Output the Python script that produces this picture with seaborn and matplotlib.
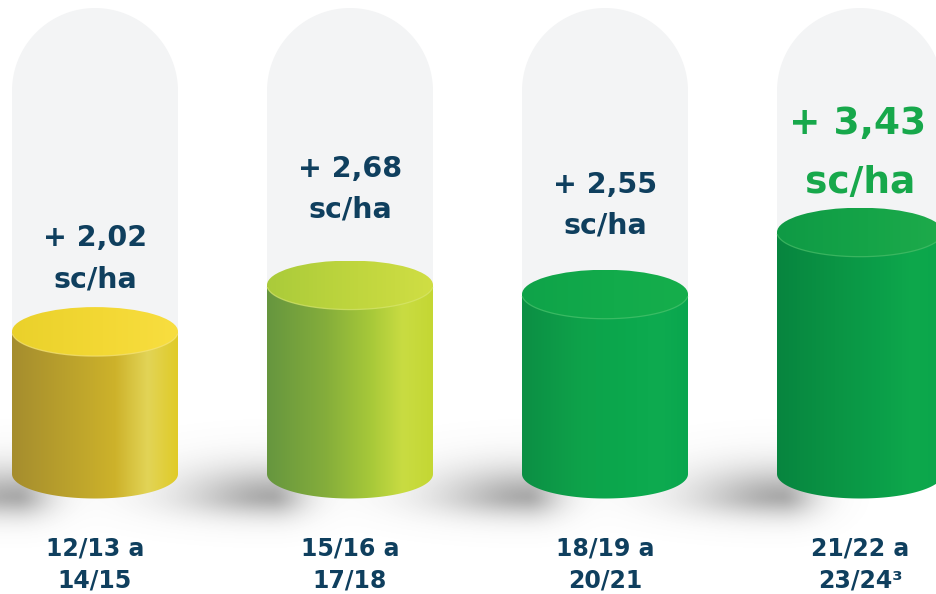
import numpy as np
import matplotlib
matplotlib.use("Agg")
import matplotlib.pyplot as plt
import seaborn as sns
import pandas as pd
from matplotlib.patches import Ellipse, Polygon, PathPatch
from matplotlib.path import Path
from matplotlib.colors import LinearSegmentedColormap

# ---------------- data ----------------
periods_top = ["12/13 a", "15/16 a", "18/19 a", "21/22 a"]
periods_bottom = ["14/15", "17/18", "20/21", "23/24³"]
gains = [2.02, 2.68, 2.55, 3.43]
gain_labels = ["+ 2,02", "+ 2,68", "+ 2,55", "+ 3,43"]
unit_label = "sc/ha"

# ---------------- styles ----------------
body_colors = [
    ["#a58d2e", "#bba22c", "#cdb22a", "#e2d457", "#e0cb27"],
    ["#66963f", "#84ad3b", "#a6c839", "#c9dc42", "#c4d733"],
    ["#0c8f44", "#0ea24a", "#0ba84d", "#0eab50", "#09a64e"],
    ["#07853f", "#0a9444", "#0b9f49", "#0ea84c", "#0aa64b"],
]
top_colors = [
    ["#ead12b", "#f3d834", "#f8de40"],
    ["#aacb3a", "#c0d63e", "#d0de44"],
    ["#0fa349", "#12ab4b", "#16ae4c"],
    ["#0f9a45", "#15a448", "#1eab4b"],
]
rim_colors = ["#f6e47a", "#d8e66e", "#4cc46e", "#4cbf6a"]
navy = "#0f3f5e"
green_txt = "#17a84b"

W, H = 937, 594
BASE_PX = 474.0      # pixel row of the value zero (bottom ellipse centre)
K = 70.5             # pixels per value unit
SEMI_PX = 24.5       # ellipse half-height in pixels
SPACING = 255.0      # pixels between categories
FIRST_PX = 95.0      # pixel column of first category

sns.set_theme(style="white")
plt.rcParams["font.family"] = ["DejaVu Sans"]

fig = plt.figure(figsize=(W / 100, H / 100), dpi=100)
fig.patch.set_facecolor("white")

# background (pixel coordinates)
bg = fig.add_axes([0, 0, 1, 1], zorder=0)
bg.set_xlim(0, W)
bg.set_ylim(H, 0)
bg.axis("off")

# main axis (category x value)
ax = fig.add_axes([0, 0, 1, 1], zorder=1)
ax.patch.set_alpha(0)

df = pd.DataFrame({"period": [f"{a}\n{b}" for a, b in zip(periods_top, periods_bottom)],
                   "gain": gains})
bar_w = 166.0 / SPACING
sns.barplot(data=df, x="period", y="gain", ax=ax, width=bar_w, color="#0aa64b",
            errorbar=None)
ax.set_xlim(-FIRST_PX / SPACING, (W - FIRST_PX) / SPACING)
ax.set_ylim(-(H - BASE_PX) / K, BASE_PX / K)
ax.set_autoscale_on(False)
ax.axis("off")

semi = SEMI_PX / K
patches = list(ax.patches)

# shadows in background
yy, xx = np.mgrid[0:H, 0:W].astype(float)
keep = np.ones_like(xx)
for p in patches:
    cx_data = p.get_x() + p.get_width() / 2
    cx_px = (cx_data + FIRST_PX / SPACING) * SPACING
    xl = cx_px - 83
    sc_x, sc_y = xl + 4, BASE_PX + 22
    dx = xx - sc_x
    sx = np.where(dx < 0, 88.0, 34.0)
    dy = yy - sc_y
    sy = np.where(dy < 0, 30.0, 20.0)
    a = 0.6 * np.exp(-((dx / sx) ** 2 + (dy / sy) ** 2) ** 0.85)
    keep *= (1 - a)
alpha = 1 - keep
shadow = np.zeros((H, W, 4))
shadow[..., :3] = 0.45
shadow[..., 3] = alpha

# tubes
for p in patches:
    cx_data = p.get_x() + p.get_width() / 2
    cx_px = (cx_data + FIRST_PX / SPACING) * SPACING
    r = 83.0
    t = np.linspace(np.pi, 0, 80)
    pts = [(cx_px + r * np.cos(tt), 8 + r - r * np.sin(tt)) for tt in t]
    pts += [(cx_px + r, BASE_PX), (cx_px - r, BASE_PX)]
    bg.add_patch(Polygon(pts, closed=True, facecolor="#f3f4f5", edgecolor="none", zorder=0))

bg.imshow(shadow, extent=[0, W, H, 0], zorder=1, interpolation="bilinear", aspect="auto")
bg.set_xlim(0, W)
bg.set_ylim(H, 0)

# cylinders
for i, p in enumerate(patches):
    x0 = p.get_x()
    w = p.get_width()
    h = p.get_height()
    cx = x0 + w / 2
    p.set_visible(False)

    t = np.linspace(np.pi, 2 * np.pi, 80)
    verts = [(x0, h), (x0, 0)]
    verts += [(cx + w / 2 * np.cos(tt), semi * np.sin(tt)) for tt in t]
    verts += [(x0 + w, h), (x0, h)]
    codes = [Path.MOVETO] + [Path.LINETO] * (len(verts) - 2) + [Path.CLOSEPOLY]
    body = PathPatch(Path(verts, codes), facecolor="none", edgecolor="none",
                     transform=ax.transData)
    ax.add_patch(body)
    cmap = LinearSegmentedColormap.from_list(
        f"b{i}", list(zip([0.0, 0.35, 0.62, 0.82, 1.0], body_colors[i])))
    grad = np.linspace(0, 1, 256).reshape(1, -1)
    im = ax.imshow(grad, cmap=cmap, extent=[x0, x0 + w, -semi, h], aspect="auto",
                   origin="lower", zorder=3, interpolation="bicubic")
    im.set_clip_path(body)

    top = Ellipse((cx, h), w, 2 * semi, facecolor="none", edgecolor="none",
                  transform=ax.transData)
    ax.add_patch(top)
    cmap_t = LinearSegmentedColormap.from_list(
        f"t{i}", list(zip([0.0, 0.55, 1.0], top_colors[i])))
    im2 = ax.imshow(grad, cmap=cmap_t, extent=[x0, x0 + w, h - semi, h + semi],
                    aspect="auto", origin="lower", zorder=4, interpolation="bicubic")
    im2.set_clip_path(top)
    tr = np.linspace(np.pi * 1.03, np.pi * 1.97, 60)
    ax.plot(cx + w / 2 * np.cos(tr), h + semi * np.sin(tr), color=rim_colors[i],
            lw=0.9, alpha=0.7, zorder=5)

ax.set_xlim(-FIRST_PX / SPACING, (W - FIRST_PX) / SPACING)
ax.set_ylim(-(H - BASE_PX) / K, BASE_PX / K)

# value labels (pixel positions)
label_pos = [(246, 287), (177, 218), (193, 233), (134, 193)]
for i, p in enumerate(patches):
    cx_data = p.get_x() + p.get_width() / 2
    cx_px = (cx_data + FIRST_PX / SPACING) * SPACING
    big = i == len(patches) - 1
    col = green_txt if big else navy
    fs = 27 if big else 20.5
    y1, y2 = label_pos[i]
    bg.text(cx_px - (2 if big else 0), y1, gain_labels[i], ha="center", va="baseline",
            color=col, fontsize=fs, fontweight="bold", zorder=2)
    bg.text(cx_px, y2, unit_label, ha="center", va="baseline", color=col,
            fontsize=fs, fontweight="bold", zorder=2)
    bg.text(cx_px, 556, periods_top[i], ha="center", va="baseline", color=navy,
            fontsize=17, fontweight="bold", zorder=2)
    bg.text(cx_px, 587, periods_bottom[i], ha="center", va="baseline", color=navy,
            fontsize=17, fontweight="bold", zorder=2)

fig.savefig("out.png", dpi=100, facecolor="white")
